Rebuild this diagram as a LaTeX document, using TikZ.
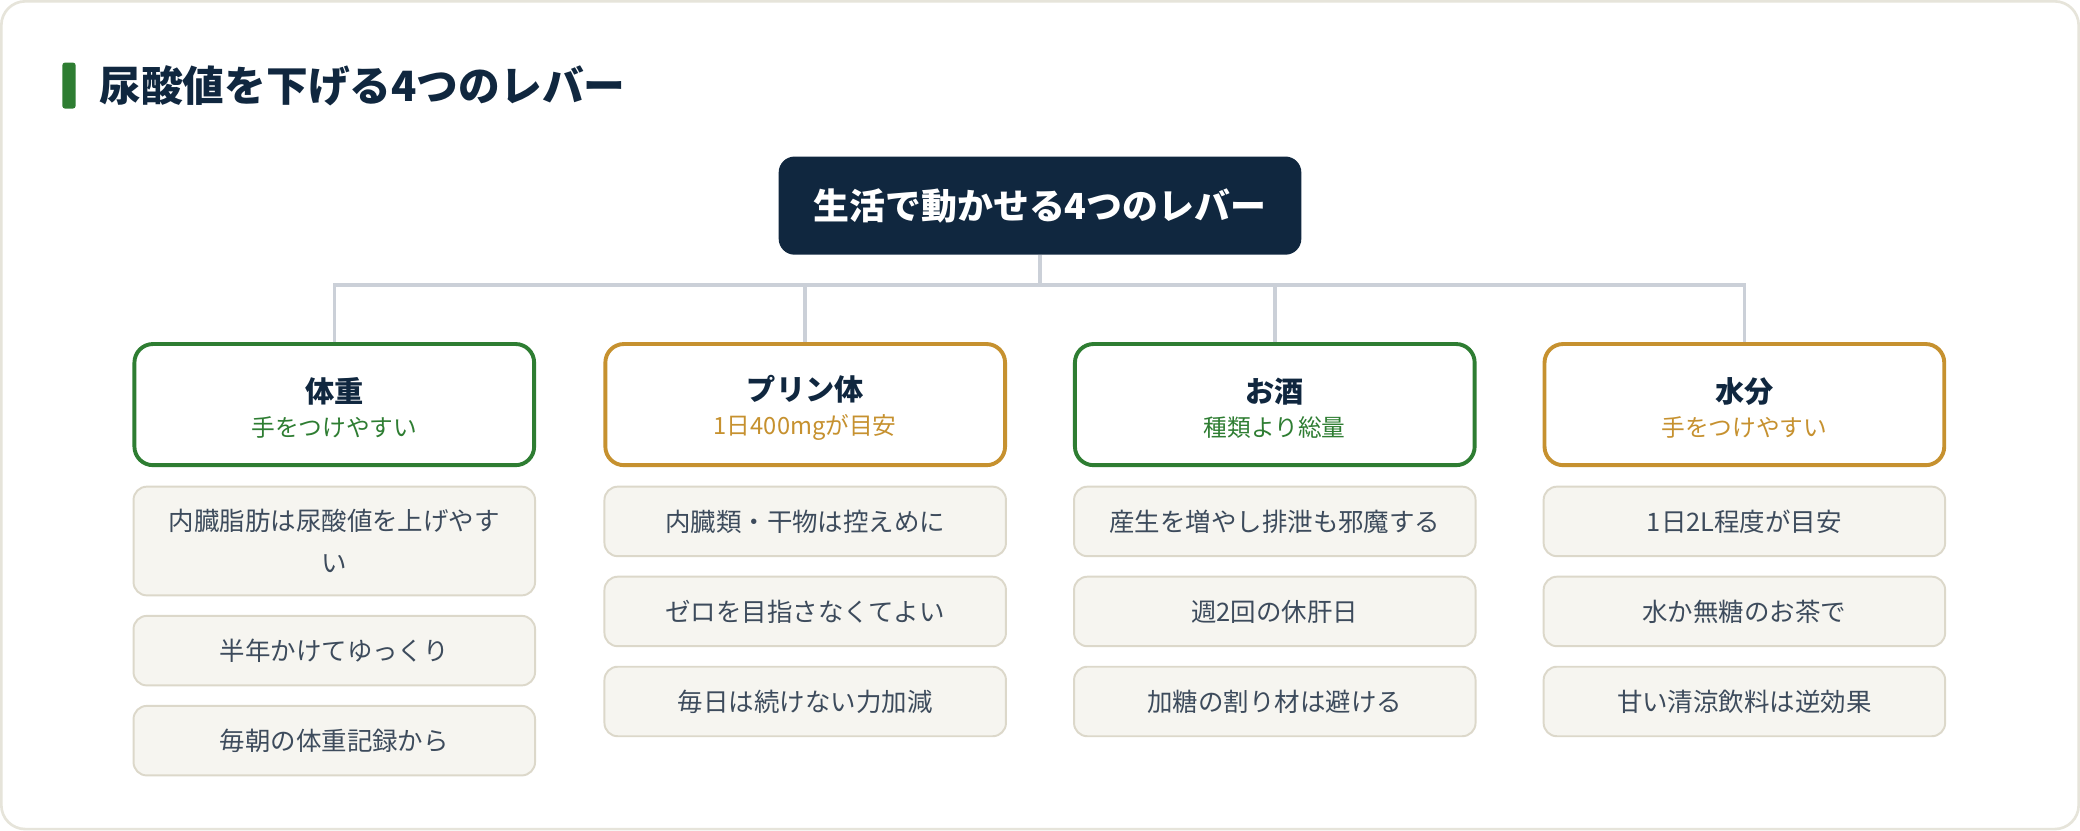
\documentclass[tikz,border=0pt]{standalone}
\usepackage{fontspec}
\setmainfont{Noto Sans CJK JP}
\usetikzlibrary{positioning,calc}
\definecolor{navy}{HTML}{10273F}
\definecolor{leafgreen}{HTML}{2E7D32}
\definecolor{ochre}{HTML}{C6912F}
\definecolor{linkgray}{HTML}{CBD0D8}
\definecolor{itemfill}{HTML}{F6F5F0}
\definecolor{itemline}{HTML}{DCD8CA}
\definecolor{itemtext}{HTML}{3D4B5C}
\definecolor{framegray}{HTML}{E6E4DA}

\begin{document}
\begin{tikzpicture}[x=0.75pt, y=-0.75pt,
  rootbox/.style={fill=navy, rounded corners=9pt, minimum width=295.5pt, minimum height=55.5pt,
    text=white, font=\fontsize{20.3pt}{24pt}\selectfont\bfseries},
  catbox/.style={draw=#1, line width=2.2pt, rounded corners=10.5pt, fill=white,
    minimum width=226pt, minimum height=68.5pt, align=center, inner sep=0pt},
  itembox/.style={draw=itemline, line width=1.1pt, fill=itemfill, rounded corners=7.5pt,
    minimum width=227pt, minimum height=39.3pt, inner ysep=12.6pt, align=center,
    text=itemtext, font=\fontsize{14.4pt}{22.5pt}\selectfont},
  link/.style={linkgray, line width=2pt}]
  \useasboundingbox (0,0) rectangle (1568,626);
  \draw[framegray, line width=1.5pt, fill=white, rounded corners=13.5pt] (1,1) rectangle (1567,625);

  % heading
  \node[fill=leafgreen, rounded corners=1.5pt, minimum width=7.5pt, minimum height=26pt, inner sep=0pt] (bar) at (52,64.5) {};
  \node[right=13pt of bar, inner sep=0pt, text=navy, font=\fontsize{23.6pt}{28pt}\selectfont\bfseries] (title) {尿酸値を下げる4つのレバー};

  % root and bus
  \node[rootbox] (root) at (784,155) {生活で動かせる4つのレバー};
  \coordinate (bus) at (784,215);
  \draw[link] (root.south) -- (bus);

  \foreach \i/\x/\c/\head/\sub in {1/252/leafgreen/体重/手をつけやすい, 2/607/ochre/プリン体/1日400mgが目安,
      3/961/leafgreen/お酒/種類より総量, 4/1315/ochre/水分/手をつけやすい} {
    \node[catbox=\c] (cat\i) at (\x,305) {{\color{navy}\fontsize{16.5pt}{20pt}\selectfont\bfseries\rule{0pt}{18pt}\head}\\[5.5pt]
      {\color{\c}\fontsize{13.4pt}{16pt}\selectfont \sub}};
    \draw[link] (cat\i.north) |- (bus);
  }

  % items under each lever
  \foreach \i/\a/\b/\d in {1/{内臓脂肪は尿酸値を上げやす\\[1.5pt]い}/半年かけてゆっくり/毎朝の体重記録から,
      2/内臓類・干物は控えめに/ゼロを目指さなくてよい/毎日は続けない力加減,
      3/産生を増やし排泄も邪魔する/週2回の休肝日/加糖の割り材は避ける,
      4/1日2L程度が目安/水か無糖のお茶で/甘い清涼飲料は逆効果} {
    \node[itembox, below=10.5pt of cat\i] (item\i a) {\a};
    \node[itembox, below=10.5pt of item\i a] (item\i b) {\b};
    \node[itembox, below=10.5pt of item\i b] (item\i c) {\d};
  }
\end{tikzpicture}
\end{document}
